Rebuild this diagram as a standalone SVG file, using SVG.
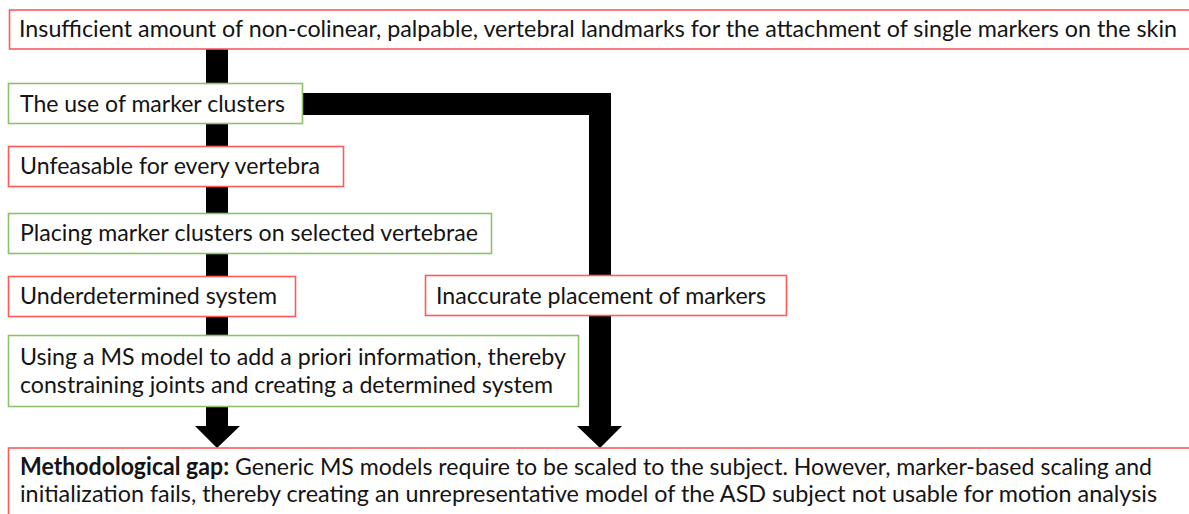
<svg xmlns="http://www.w3.org/2000/svg" width="1189" height="514" viewBox="0 0 1189 514">
  <style>
    .bg { fill: #ffffff; }
    .red { fill: #ffffff; stroke: #ff5a5a; stroke-width: 1.6; }
    .green { fill: #ffffff; stroke: #8cc26a; stroke-width: 1.6; }
    .lbl { font-family: Lato, "Liberation Sans", sans-serif; font-size: 24px; fill: #141414; }
    .wide { font-size: 23px; }
    .b { font-weight: bold; }
    .flow { fill: #000000; }
  </style>
  <rect class="bg" x="0" y="0" width="1189" height="514"/>

  <!-- thick flow arrows, drawn beneath the boxes -->
  <g id="connectors">
    <polygon class="flow" points="206,49 228,49 228,426 240,426 217,448 195,426 206,426"/>
    <polygon class="flow" points="302,93 611,93 611,426 622,426 600,448 577,426 589,426 589,115 302,115"/>
  </g>

  <g id="n-landmarks">
    <rect class="red" x="9.5" y="10" width="1200" height="39"/>
    <text class="lbl wide" x="19" y="37" textLength="1158" lengthAdjust="spacingAndGlyphs">Insufficient amount of non-colinear, palpable, vertebral landmarks for the attachment of single markers on the skin</text>
  </g>

  <g id="n-clusters">
    <rect class="green" x="8.5" y="83.5" width="294" height="40"/>
    <text class="lbl" x="20" y="112" textLength="265" lengthAdjust="spacingAndGlyphs">The use of marker clusters</text>
  </g>

  <g id="n-unfeasable">
    <rect class="red" x="8.5" y="146.5" width="335" height="40"/>
    <text class="lbl" x="20" y="174" textLength="300" lengthAdjust="spacingAndGlyphs">Unfeasable for every vertebra</text>
  </g>

  <g id="n-selected">
    <rect class="green" x="8.5" y="213.5" width="483" height="40"/>
    <text class="lbl" x="20" y="241" textLength="458" lengthAdjust="spacingAndGlyphs">Placing marker clusters on selected vertebrae</text>
  </g>

  <g id="n-underdetermined">
    <rect class="red" x="8.5" y="276.5" width="287" height="40"/>
    <text class="lbl" x="20" y="304" textLength="257" lengthAdjust="spacingAndGlyphs">Underdetermined system</text>
  </g>

  <g id="n-inaccurate">
    <rect class="red" x="425.5" y="275.5" width="361" height="40"/>
    <text class="lbl" x="436" y="304" textLength="330" lengthAdjust="spacingAndGlyphs">Inaccurate placement of markers</text>
  </g>

  <g id="n-msmodel">
    <rect class="green" x="8.5" y="335.5" width="570" height="71"/>
    <text class="lbl" x="20" y="365" textLength="546" lengthAdjust="spacingAndGlyphs">Using a MS model to add a priori information, thereby</text>
    <text class="lbl" x="20" y="393" textLength="533" lengthAdjust="spacingAndGlyphs">constraining joints and creating a determined system</text>
  </g>

  <g id="n-gap">
    <rect class="red" x="8.5" y="448" width="1200" height="80"/>
    <text class="lbl" x="20" y="475" textLength="1132" lengthAdjust="spacingAndGlyphs"><tspan class="b">Methodological gap:</tspan> Generic MS models require to be scaled to the subject. However, marker-based scaling and</text>
    <text class="lbl" x="20" y="502" textLength="1137" lengthAdjust="spacingAndGlyphs">initialization fails, thereby creating an unrepresentative model of the ASD subject not usable for motion analysis</text>
  </g>
</svg>
